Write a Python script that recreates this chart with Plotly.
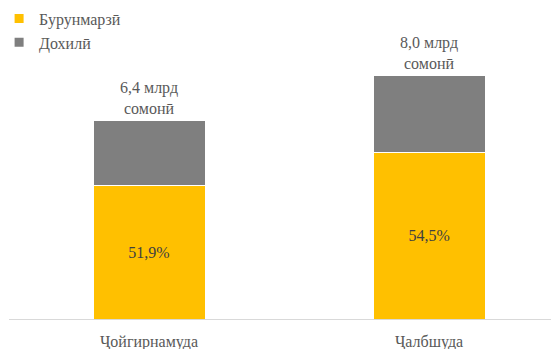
import plotly.graph_objects as go

# Data
kategorie = ["Ҷойгирнамуда", "Ҷалбшуда"]
burunmarzi = [4.4, 5.47]      # yellow part (bar height, bn somoni)
dohili = [2.13, 2.53]         # gray part
burunmarzi_text = ["51,9%", "54,5%"]
celkem_text = ["6,4 млрд<br>сомонӣ", "8,0 млрд<br>сомонӣ"]
nazvy = ["Бурунмарзӣ", "Дохилӣ"]

zluta = "#FFC000"
seda = "#7F7F7F"
pismo = "Liberation Serif"

fig = go.Figure()

# Stacked bars
fig.add_trace(go.Bar(
    x=kategorie, y=burunmarzi, name=nazvy[0], marker=dict(color=zluta, line=dict(color="white", width=1)),
    text=burunmarzi_text, textposition="inside", insidetextanchor="middle",
    textfont=dict(family=pismo, size=16, color="#404040"), width=0.4, showlegend=False,
    hoverinfo="skip"
))
fig.add_trace(go.Bar(
    x=kategorie, y=dohili, name=nazvy[1], marker=dict(color=seda, line=dict(color="white", width=1)),
    width=0.4, showlegend=False, hoverinfo="skip"
))

# Legend entries (small squares)
for i, (nazev, barva) in enumerate(zip(nazvy, [zluta, seda])):
    fig.add_trace(go.Scatter(
        x=[None], y=[None], mode="markers", name=nazev, legendgroup=str(i),
        marker=dict(symbol="square", size=9, color=barva)
    ))

# Totals above bars
for kat, b, d, t in zip(kategorie, burunmarzi, dohili, celkem_text):
    fig.add_annotation(
        x=kat, y=b + d, text=t, showarrow=False, yanchor="bottom", yshift=2,
        font=dict(family=pismo, size=16, color="#595959")
    )

# page body has 8px margin -> figure is 8px smaller and margins shifted
fig.update_layout(
    barmode="stack",
    width=551, height=341,
    margin=dict(l=1, r=0, t=2, b=30, autoexpand=False),
    paper_bgcolor="white", plot_bgcolor="white",
    font=dict(family=pismo, size=16, color="#595959"),
    legend=dict(x=-0.018, y=1.027, xanchor="left", yanchor="top", traceorder="normal",
                font=dict(family=pismo, size=16, color="#595959"),
                itemwidth=30, tracegroupgap=13, bgcolor="rgba(0,0,0,0)"),
)

fig.update_xaxes(range=[-0.5, 1.464], showline=True, linecolor="#D9D9D9", linewidth=1,
                 ticks="", showgrid=False, ticklabelstandoff=8,
                 tickfont=dict(family=pismo, size=16, color="#595959"))
fig.update_yaxes(range=[0, 10.17], visible=False, showgrid=False)

fig.write_html("out.html")
